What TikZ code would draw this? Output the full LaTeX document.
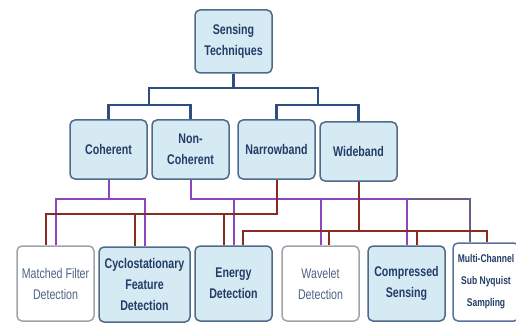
\documentclass[tikz,border=0pt]{standalone}
\usepackage{fontspec}
\setmainfont[FakeStretch=0.76]{Liberation Sans}
\definecolor{boxfill}{HTML}{D5EAF3}
\definecolor{boxline}{HTML}{4F6A8A}
\definecolor{boxtext}{HTML}{233D68}
\definecolor{softtext}{HTML}{4E6284}
\definecolor{softline}{HTML}{A0A4AA}
\definecolor{treeblue}{HTML}{2F4E80}
\definecolor{purp}{HTML}{8E45C2}
\definecolor{purpgray}{HTML}{6E5C84}
\definecolor{brownred}{HTML}{8A2B22}
\tikzset{
  base/.style={draw=boxline, line width=1.5pt, rounded corners=5pt, align=center,
    inner sep=2pt, execute at begin node={\baselineskip=21pt}},
  techbox/.style={base, fill=boxfill, text=boxtext, font=\fontsize{14}{21}\selectfont\bfseries},
  plainbox/.style={base, draw=softline, fill=white, text=softtext, font=\fontsize{14}{21}\selectfont},
  tree/.style={draw=treeblue, line width=2.2pt},
  pur/.style={draw=purp, line width=2pt},
  rd/.style={draw=brownred, line width=2pt},
}
\begin{document}
\begin{tikzpicture}[x=1pt, y=-1pt]
\useasboundingbox (0,0) rectangle (516,323);

% top level
\node[techbox, minimum width=77pt, minimum height=63pt] (root) at (233.5,41.5) {Sensing\\Techniques};

% second level
\node[techbox, minimum width=77pt, minimum height=59pt] (coh)    at (108.5,149.5) {Coherent};
\node[techbox, minimum width=77pt, minimum height=59pt] (ncoh)   at (190.5,149.5) {Non-\\Coherent};
\node[techbox, minimum width=77pt, minimum height=59pt] (narrow) at (276.5,149.5) {Narrowband};
\node[techbox, minimum width=77pt, minimum height=59pt] (wide)   at (358.5,151.5) {Wideband};

% detection methods
\node[plainbox, minimum width=77pt, minimum height=75pt] (mf)  at (55.5,283.5) {Matched Filter\\Detection};
\node[techbox,  minimum width=91pt, minimum height=75pt] (cyc) at (144.5,284.5) {Cyclostationary\\Feature\\Detection};
\node[techbox,  minimum width=77pt, minimum height=75pt] (en)  at (233.5,283.5) {Energy\\Detection};
\node[plainbox, minimum width=77pt, minimum height=75pt] (wav) at (320.5,283.5) {Wavelet\\Detection};
\node[techbox,  minimum width=77pt, minimum height=75pt] (cs)  at (406.5,283.5) {Compressed\\Sensing};
\node[techbox, fill=white, draw=treeblue!80, minimum width=66pt, minimum height=78pt,
      font=\fontsize{11.2}{22}\selectfont\bfseries, execute at begin node={\baselineskip=22pt}]
      (mc) at (486,282) {Multi-Channel\\Sub Nyquist\\Sampling};

% tree under the root
\coordinate (rb) at (233.5,88);
\coordinate (lj) at (149,105);
\coordinate (rj) at (318,105);
\draw[tree] (root.south) -- (rb);
\draw[tree] (lj) |- (rb) -| (rj);
\draw[tree] (coh.north) |- (lj) -| (ncoh.north);
\draw[tree] (narrow.north) |- (rj) -| (wide.north);

% coherent methods
\coordinate (cpL) at (56,199);
\coordinate (cpR) at (145,199);
\draw[pur] (coh.south) -- (coh.south |- cpL);
\draw[pur] (cpL |- mf.north) -- (cpL) -- (cpR) -- (cpR |- cyc.north);

% non-coherent methods
\coordinate (npA) at (407,199);
\coordinate (npR) at (470,199);
\draw[purpgray, line width=1.4pt] (npA) -- (npR) -- (npR |- mc.north);
\draw[pur] (ncoh.south) |- (npA);
\draw[pur] (en.north) -- (en.north |- npA);
\draw[pur] (wav.north) -- (wav.north |- npA);
\draw[pur] (cs.north) -- (cs.north |- npA);

% narrowband methods
\coordinate (nrL) at (46,214);
\coordinate (nrB) at (135,214);
\coordinate (nrC) at (224,214);
\draw[rd] (narrow.south) |- (nrL) -- (nrL |- mf.north);
\draw[rd] (nrB) -- (nrB |- cyc.north);
\draw[rd] (nrC) -- (nrC |- en.north);

% wideband methods
\coordinate (wrL) at (243,231);
\coordinate (wrB) at (329,231);
\coordinate (wrC) at (417,231);
\coordinate (wrR) at (487,231);
\draw[rd] (wide.south) -- (wide.south |- wrL);
\draw[rd] (wrL |- en.north) -- (wrL) -- (wrR) -- (wrR |- mc.north);
\draw[rd] (wrB) -- (wrB |- wav.north);
\draw[rd] (wrC) -- (wrC |- cs.north);
\end{tikzpicture}
\end{document}
